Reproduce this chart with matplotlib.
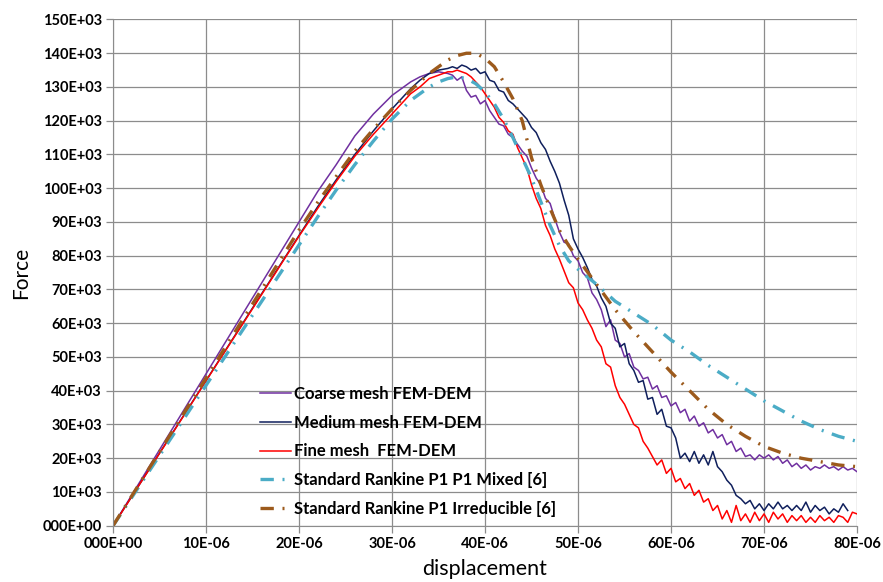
import matplotlib
matplotlib.use('Agg')
import matplotlib.pyplot as plt

plt.rcParams['font.family'] = ['Lato', 'DejaVu Sans']

# displacement in 1E-06, force in 1E+03
rise_x = [0, 2, 4, 6, 8, 10, 12, 14, 16, 18, 20, 22, 24, 26, 28, 30, 31, 32, 33, 34, 35, 36]
tail_x = [36.5 + 0.5 * i for i in range(88)]

coarse_rise = [0, 9, 18, 27, 36, 45, 54, 63, 72, 81, 90, 99, 107, 115.5, 122, 127.5,
               129.5, 131.5, 133, 134, 134.5, 134]
coarse_tail = [133.5, 132, 133, 129, 127, 127.5, 125, 126, 123, 121, 119, 118.5, 116, 115,
               113, 111, 109.5, 106, 103, 101, 97, 95.5, 91, 87, 84, 83.5, 80, 78.5, 75,
               73.5, 69, 67, 64, 59, 61, 55, 54, 50, 51, 47, 46, 43.5, 44, 40.5, 41.5, 38,
               38.5, 35.5, 36.5, 33.5, 34.5, 31, 32.5, 29.5, 30.5, 27.5, 28.5, 26, 27, 24,
               25, 22, 23, 20.5, 21, 19.5, 21, 20, 21, 19.5, 20.5, 18.5, 19.5, 17.5, 18.5,
               17, 18, 16.5, 17.5, 17, 18, 17, 17.5, 16.5, 17.5, 16.5, 17, 16]

medium_rise = [0, 8.6, 17.2, 25.8, 34.4, 43, 51.6, 60.2, 68.8, 77.4, 86, 94.5, 102.5, 110,
               117, 123.5, 126.5, 129.5, 132, 134, 135, 135.5]
medium_tail = [136, 135.5, 136.5, 136, 135, 135.5, 134, 134.5, 132, 131.5, 129, 128.5, 126,
               125, 123.5, 122, 120.5, 118, 116.5, 113.5, 111.5, 108, 105, 101.5, 96.5, 92,
               85, 82, 79.5, 76.5, 73, 71, 67.5, 65, 60, 58.5, 53, 54, 48, 46, 42.5, 43,
               37.5, 38, 33, 34.5, 29.5, 29, 26, 20, 21.5, 19, 22, 18.5, 21, 18, 22, 17.5,
               16, 13.5, 12, 9, 8, 6.5, 7.5, 5, 6.5, 4.5, 6.5, 5, 7, 5, 6, 4.5, 6, 4.5, 7,
               4, 6, 4.5, 5.5, 3.5, 5, 4, 6.5, 4.5]

fine_rise = [0, 8.6, 17.2, 25.7, 34.3, 42.9, 51.5, 60, 68.6, 77.2, 85.8, 94, 102, 109.5,
             116, 122, 125, 128, 130, 132.5, 133.5, 134.5]
fine_tail = [134.5, 135, 134.5, 134, 133, 131.5, 130, 128, 126, 124, 121, 119.5, 117, 116,
             112, 109, 106, 101, 97, 94, 89, 86, 82, 79, 75.5, 72, 70.5, 66, 64, 61, 58.5,
             55, 53, 48, 47, 41.5, 38, 36, 33, 30, 29, 25, 23, 20.5, 18, 19.5, 15.5, 17,
             13, 14, 11, 12.5, 9, 10.5, 7, 8, 4.5, 6, 2, 4.5, 1, 6, 1.5, 3.5, 1, 4, 1.5,
             3.5, 1, 4, 2, 3.5, 1, 3, 1.5, 3, 1, 2.5, 1, 3, 1.5, 2.5, 1, 3, 2.5, 1, 4, 3.5]

ref_x = [0, 5, 10, 15, 20, 22, 24, 26, 28, 30, 32, 34, 35, 36, 37, 38, 39, 40, 41, 42, 43,
         44, 45, 46, 47, 48, 49, 50, 52, 54, 56, 58, 60, 62, 64, 66, 68, 70, 72, 74, 76, 78, 80]
mixed_y = [0, 20.8, 41.6, 62.4, 83.2, 91.5, 99.5, 107, 114, 120.5, 126, 130, 131.5, 132.5,
           133, 132.5, 131, 128.5, 125, 120.5, 115, 109, 103, 96, 89, 83, 78.5, 76, 71.5,
           66.5, 63, 59.5, 55, 51.5, 47.5, 44, 40.5, 37, 34, 31, 28.5, 26.5, 25]
irred_y = [0, 21.9, 43.8, 65.7, 87.6, 95.8, 103.5, 111, 117.5, 123.5, 129, 134, 136, 138,
           139.3, 140, 140, 138.5, 136, 131.5, 126.5, 120, 109, 101, 94, 87.5, 83, 79,
           71.5, 64, 57.5, 51.5, 45.5, 40, 34.5, 30, 26.5, 23.5, 21.5, 20, 19, 18, 17.5]

x_ticks = [0, 10, 20, 30, 40, 50, 60, 70, 80]
x_labels = ['000E+00', '10E-06', '20E-06', '30E-06', '40E-06', '50E-06', '60E-06', '70E-06', '80E-06']
y_ticks = list(range(0, 151, 10))
y_labels = ['000E+00'] + ['%dE+03' % v for v in y_ticks[1:]]

fig = plt.figure(figsize=(8.83, 5.82), dpi=100)
ax = fig.add_axes([0.128, 0.0967, 0.8426, 0.8698])

dashdot = (0, (4, 2.6, 0.6, 2.6))
ax.plot(rise_x + tail_x, coarse_rise + coarse_tail, color='#7030A0', lw=1.1, label='Coarse mesh FEM-DEM')
ax.plot(rise_x + tail_x[:-2], medium_rise + medium_tail, color='#0F1F5C', lw=1.1, label='Medium mesh FEM-DEM')
ax.plot(rise_x + tail_x, fine_rise + fine_tail, color='#FF0000', lw=1.1, label='Fine mesh  FEM-DEM')
ax.plot(ref_x, mixed_y, color='#4BACC6', lw=2.4, linestyle=dashdot, label='Standard Rankine P1 P1 Mixed [6]')
ax.plot(ref_x, irred_y, color='#9C5A1C', lw=2.4, linestyle=dashdot, label='Standard Rankine P1 Irreducible [6]')

ax.set_xlim(0, 80)
ax.set_ylim(0, 150)
ax.set_xticks(x_ticks)
ax.set_xticklabels(x_labels, fontweight='bold', fontsize=10.5)
ax.set_yticks(y_ticks)
ax.set_yticklabels(y_labels, fontweight='bold', fontsize=10.5)
ax.grid(True, color='#8C8C8C', lw=0.9)
ax.set_axisbelow(True)
for s in ['top', 'right']:
    ax.spines[s].set_visible(False)
for s in ['left', 'bottom']:
    ax.spines[s].set_color('#8C8C8C')
ax.tick_params(colors='#8C8C8C', labelcolor='black', length=5, width=0.9, pad=3)
ax.set_xlabel('displacement', fontsize=15.5, labelpad=6)
ax.set_ylabel('Force', fontsize=15, labelpad=8)

ax.legend(loc='lower left', bbox_to_anchor=(0.177, -0.012), frameon=False,
          prop={'weight': 'bold', 'size': 12}, handlelength=1.9, handletextpad=0.18,
          labelspacing=0.76)

fig.savefig('out.png', dpi=100)
